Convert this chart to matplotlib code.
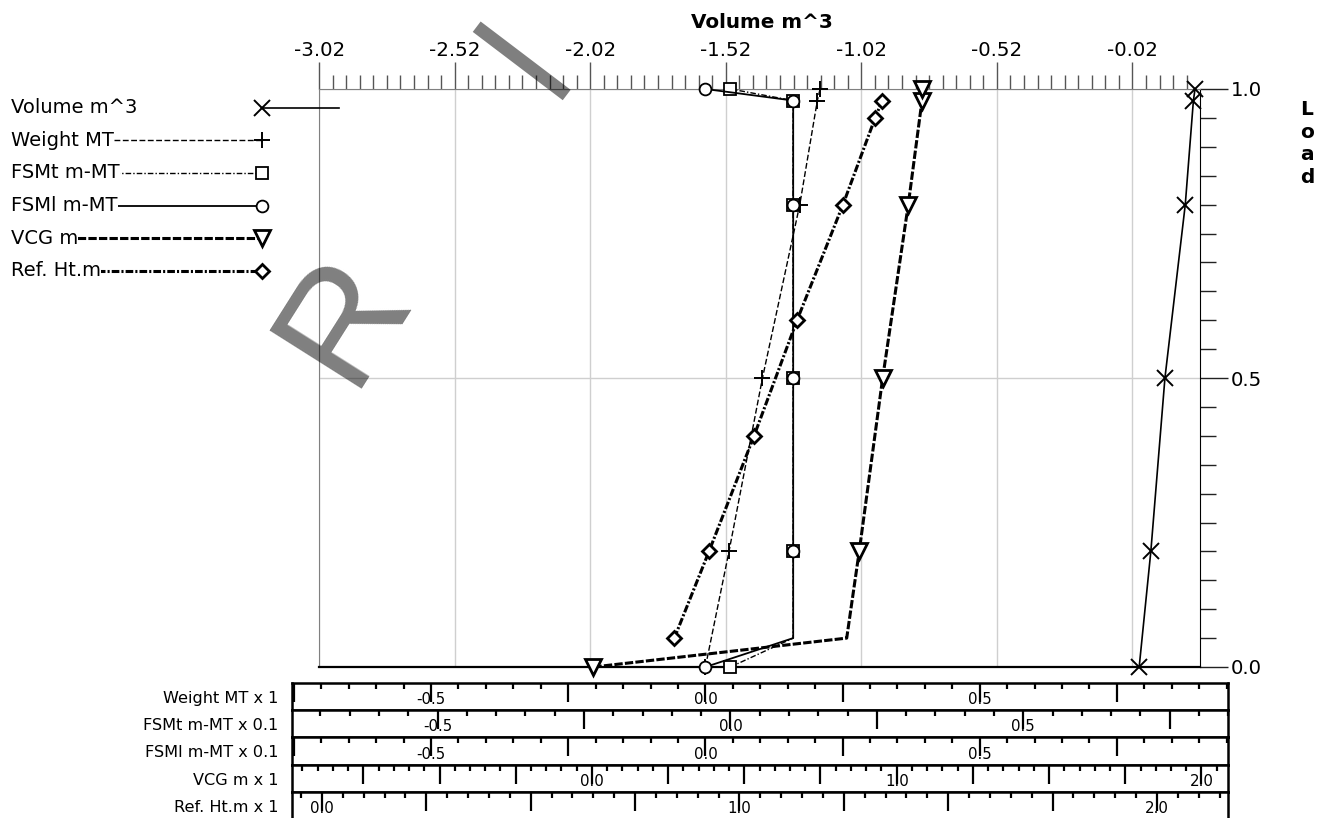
import numpy as np
import matplotlib
matplotlib.use("Agg")
import matplotlib.pyplot as plt
from matplotlib.ticker import MultipleLocator, FixedLocator, FuncFormatter, FormatStrFormatter
from matplotlib.lines import Line2D

# ---------------- data ----------------
load_volume = [0.0, 0.2, 0.5, 0.8, 0.98, 1.0]
volume = [0.005, 0.048, 0.100, 0.175, 0.205, 0.211]

load_weight = [0.0, 0.2, 0.5, 0.8, 0.98, 1.0]
weight = [0.0, 0.043, 0.104, 0.172, 0.204, 0.209]

load_fsm = [0.0, 0.05, 0.2, 0.5, 0.8, 0.98, 1.0]
fsmt = [0.0, 0.107, 0.107, 0.107, 0.107, 0.107, 0.0]
fsml = [0.0, 0.160, 0.160, 0.160, 0.160, 0.160, 0.0]
fsm_marks = [0, 2, 3, 4, 5, 6]

load_vcg = [0.0, 0.05, 0.2, 0.5, 0.8, 0.98, 1.0]
vcg = [0.005, 0.836, 0.877, 0.954, 1.038, 1.083, 1.083]
vcg_marks = [0, 2, 3, 4, 5, 6]

load_ref = [0.05, 0.2, 0.4, 0.6, 0.8, 0.95, 0.98]
ref_ht = [0.844, 0.927, 1.035, 1.138, 1.248, 1.325, 1.342]

volume_ticks = [-3.02, -2.52, -2.02, -1.52, -1.02, -0.52, -0.02]
volume_range = (-3.02, 0.2275)
load_ticks = [0.0, 0.5, 1.0]

legend_labels = ["Volume m^3", "Weight MT", "FSMt m-MT", "FSMl m-MT", "VCG m", "Ref. Ht.m"]
strip_labels = ["Weight MT x 1", "FSMt m-MT x 0.1", "FSMl m-MT x 0.1", "VCG m x 1", "Ref. Ht.m x 1"]
strip_ranges = [(-0.754, 0.953), (-0.749, 0.850), (-0.754, 0.953), (-0.985, 2.088), (-0.0726, 2.171)]
strip_label_steps = [0.5, 0.5, 0.5, 1.0, 1.0]

# ---------------- styles / layout ----------------
plt.rcParams['font.family'] = ['DejaVu Sans']
plt.rcParams['lines.scale_dashes'] = False

styles = [
    dict(color='black', lw=1.2, ls='-', marker='x', ms=12, mew=1.4),
    dict(color='black', lw=1.0, ls=(0, (4.2, 1.8)), marker='+', ms=12, mew=1.4),
    dict(color='black', lw=1.0, ls=(0, (4, 1.5, 1, 1.5)), marker='s', ms=9, mew=1.3, mfc='white'),
    dict(color='black', lw=1.3, ls='-', marker='o', ms=8.5, mew=1.3, mfc='white'),
    dict(color='black', lw=2.2, ls=(0, (6, 1.6)), marker='v', ms=11.5, mew=2.0, mfc='white'),
    dict(color='black', lw=2.2, ls=(0, (5.5, 1.5, 1.5, 1.5)), marker='D', ms=7.5, mew=2.0, mfc='white'),
]

W, H = 1329, 818
PL, PR, PT, PB = 319.1, 1199.5, 89.0, 667.0
SL, SR = 291.7, 1228.3
ST0, SH = 682.7, 27.3

fig = plt.figure(figsize=(W / 100, H / 100), dpi=100)


def rect(l, t, r, b):
    return [l / W, 1 - b / H, (r - l) / W, (b - t) / H]


# ---------------- main axes ----------------
ax = fig.add_axes(rect(PL, PT, PR, PB))
ax.set_xlim(*volume_range)
ax.set_ylim(0, 1)
ax.xaxis.tick_top()
ax.xaxis.set_major_locator(FixedLocator(volume_ticks))
ax.xaxis.set_major_formatter(FormatStrFormatter('%.2f'))
ax.xaxis.set_minor_locator(FixedLocator(np.round(np.arange(-3.02, 0.23, 0.05), 2)))
ax.tick_params(axis='x', which='both', direction='out', color='#555555', labelcolor='black',
               labelsize=14.2, pad=1.5, width=1)
ax.tick_params(axis='x', which='major', length=19.5)
ax.tick_params(axis='x', which='minor', length=10)
ax.yaxis.tick_right()
ax.yaxis.set_major_locator(FixedLocator(load_ticks))
ax.yaxis.set_minor_locator(MultipleLocator(0.05))
ax.yaxis.set_major_formatter(FormatStrFormatter('%.1f'))
ax.tick_params(axis='y', which='both', direction='out', color='#222222', labelcolor='black',
               labelsize=14.2, pad=2.5, width=1)
ax.tick_params(axis='y', which='major', length=20)
ax.tick_params(axis='y', which='minor', length=11.5)
ax.spines['left'].set_color('#808080')
ax.spines['top'].set_color('#808080')
ax.spines['right'].set_color('black')
ax.spines['bottom'].set_color('black')
ax.spines['bottom'].set_linewidth(1.6)
ax.grid(True, which='major', color='#cfcfcf', lw=1)
ax.set_axisbelow(True)

ax.plot(volume, load_volume, clip_on=False, zorder=3, **styles[0])


def overlay(rng, name):
    lo, hi = rng
    per = (hi - lo) / (SR - SL)
    o = fig.add_axes(rect(PL, PT, PR, PB), label=name, sharey=ax)
    o.set_xlim(lo + (PL - SL) * per, lo + (PR - SL) * per)
    o.axis('off')
    return o


o_w = overlay(strip_ranges[0], 'weight')
o_w.plot(weight, load_weight, clip_on=False, **styles[1])
o_t = overlay(strip_ranges[1], 'fsmt')
o_t.plot(fsmt, load_fsm, clip_on=False, markevery=fsm_marks, **styles[2])
o_l = overlay(strip_ranges[2], 'fsml')
o_l.plot(fsml, load_fsm, clip_on=False, markevery=fsm_marks, **styles[3])
o_v = overlay(strip_ranges[3], 'vcg')
o_v.plot(vcg, load_vcg, clip_on=False, markevery=vcg_marks, **styles[4])
o_r = overlay(strip_ranges[4], 'ref')
o_r.plot(ref_ht, load_ref, clip_on=False, **styles[5])


# ---------------- bottom strips ----------------
def make_fmt(step):
    def f(v, pos):
        k = v / step
        if abs(k - round(k)) < 1e-6:
            s = "%.1f" % (round(k) * step)
            return "0.0" if s == "-0.0" else s
        return ""
    return FuncFormatter(f)


for i, (lab, rng, step) in enumerate(zip(strip_labels, strip_ranges, strip_label_steps)):
    top = ST0 + SH * i
    s = fig.add_axes(rect(SL, top, SR, top + SH))
    s.set_xlim(*rng)
    s.set_ylim(0, 1)
    s.set_yticks([])
    s.xaxis.set_major_locator(MultipleLocator(0.25))
    s.xaxis.set_minor_locator(MultipleLocator(0.05))
    s.xaxis.set_major_formatter(make_fmt(step))
    s.tick_params(axis='x', which='both', direction='in', top=True, bottom=False,
                  labeltop=False, labelbottom=True, width=1.6, color='black',
                  labelsize=10.8, pad=-13)
    s.tick_params(axis='x', which='major', length=13.7)
    s.tick_params(axis='x', which='minor', length=4.2)
    for sp in s.spines.values():
        sp.set_linewidth(1.8)
    fig.text((SL - 13.4) / W, 1 - (top + 15.6) / H, lab, ha='right', va='center', fontsize=11.6)

# ---------------- legend ----------------
lax = fig.add_axes(rect(0, 90, 345, 290))
lax.set_xlim(0, 345)
lax.set_ylim(290, 90)
lax.axis('off')
leg_y = [107.7, 140, 173, 205.7, 238, 270.7]
for k, (lab, st, y) in enumerate(zip(legend_labels, styles, leg_y)):
    line_kw = dict(color=st['color'], lw=st['lw'], ls=st['ls'])
    if k == 0:
        lax.plot([262, 339], [y, y], clip_on=False, zorder=2, **line_kw)
    else:
        lax.plot([14, 262], [y, y], clip_on=False, zorder=2, **line_kw)
    lax.plot([262], [y], ls='none', marker=st['marker'], ms=st['ms'], mew=st['mew'],
             mfc=st.get('mfc', 'black'), mec='black', clip_on=False, zorder=4)
    lax.text(11, y, lab, ha='left', va='center', fontsize=14, zorder=3,
             bbox=dict(boxstyle='square,pad=0', fc='white', ec='none'))

# ---------------- titles ----------------
fig.text(761.5 / W, 1 - 22 / H, "Volume m^3", fontsize=14.4, fontweight='bold', ha='center', va='center')
fig.text(1307 / W, 1 - 100 / H, "L\no\na\nd", fontsize=14.5, fontweight='bold', ha='center', va='top',
         linespacing=1.25)

# ---------------- watermark ----------------
fig.text(345 / W, 1 - 319 / H, "R", family='Liberation Sans', fontsize=113, rotation=57.7,
         color='black', alpha=0.5, ha='center', va='center', zorder=10)
fig.add_artist(Line2D([476.7 / W, 566.7 / W], [1 - 26.7 / H, 1 - 95 / H], transform=fig.transFigure,
                      lw=9.4, color='black', alpha=0.5, solid_capstyle='butt', zorder=10))

fig.savefig("out.png", dpi=100)
